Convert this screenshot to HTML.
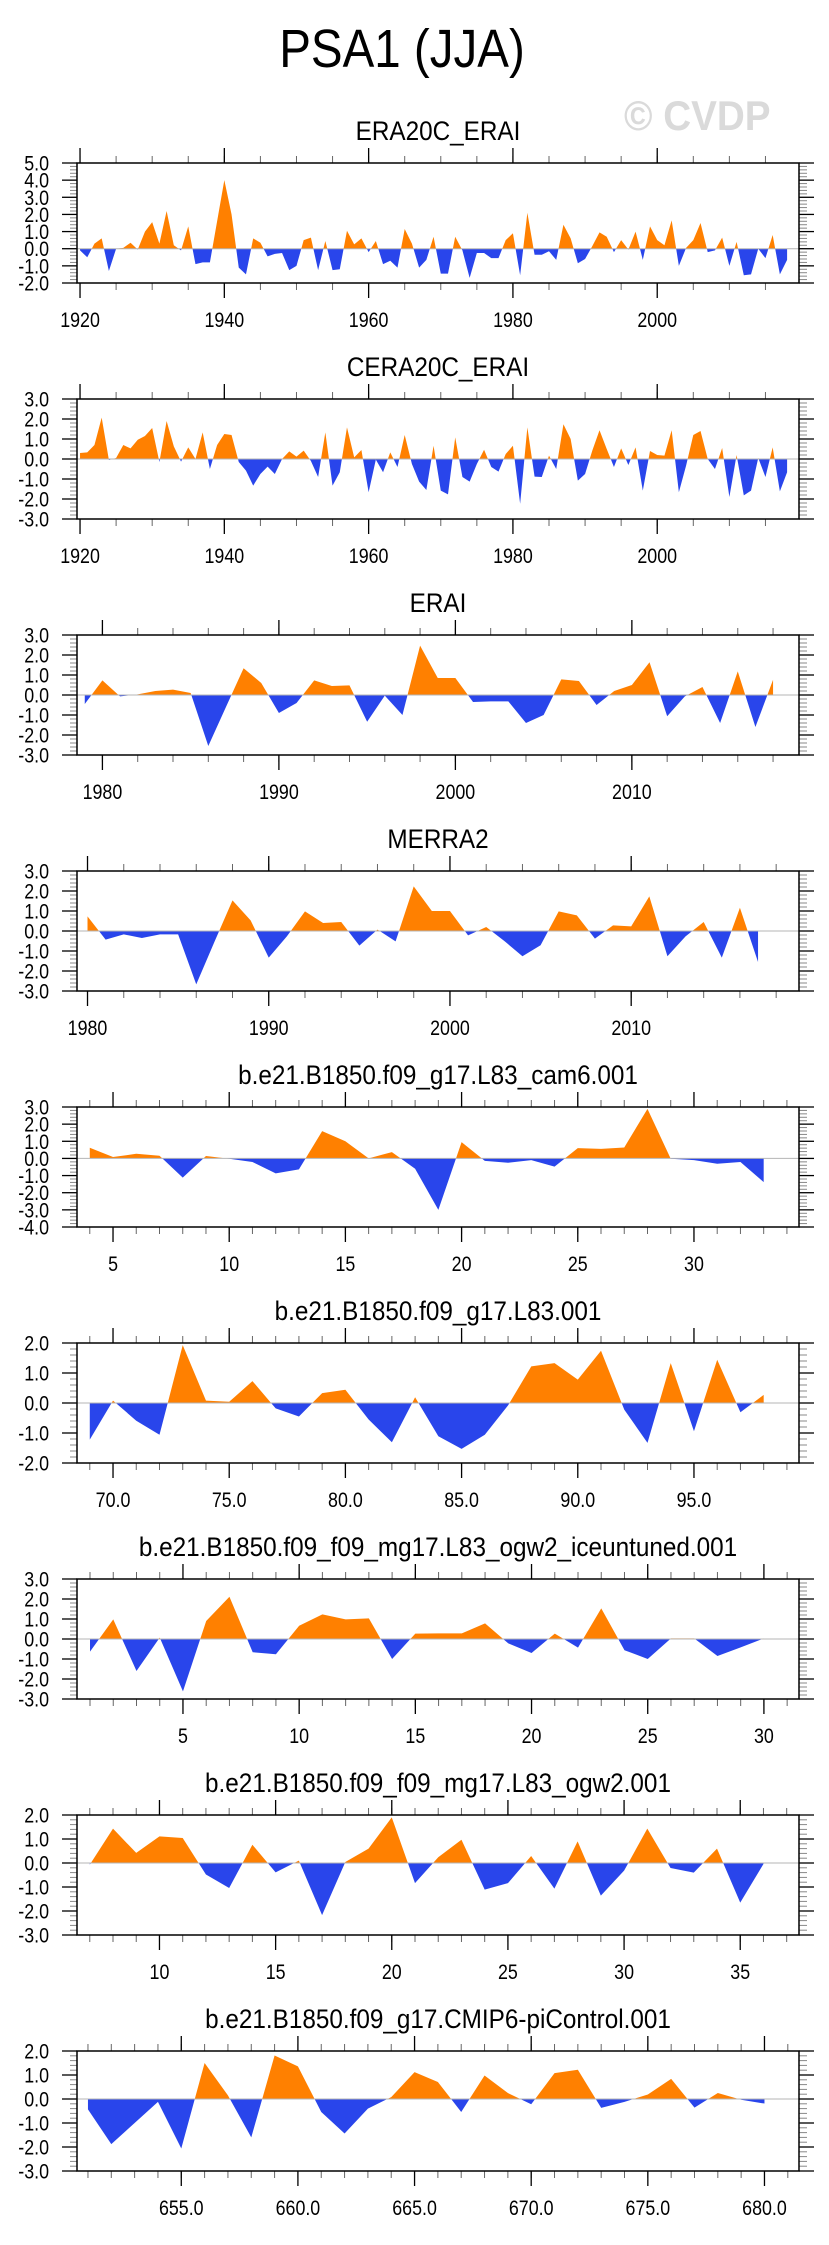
<!DOCTYPE html>
<html>
<head>
<meta charset="utf-8">
<style>
  html,body{margin:0;padding:0;background:#fff;}
  svg{display:block;font-family:"Liberation Sans",Arial,sans-serif;}
</style>
</head>
<body>
<svg id="chart" width="829" height="2245" viewBox="0 0 829 2245" xmlns="http://www.w3.org/2000/svg">
  <rect x="0" y="0" width="829" height="2245" fill="#fff"/>
  <text transform="translate(402,67) scale(0.88,1)" x="0" y="0" font-size="54" text-anchor="middle" fill="#000">PSA1 (JJA)</text>
  <text transform="translate(624,130) scale(0.92,1)" x="0" y="0" font-size="42" font-weight="bold" fill="#dadada">© CVDP</text>
</svg>
<script>
// ---- data ----
const era20cValues = [-0.1,-0.5,0.3,0.6,-1.3,0.0,0.05,0.35,-0.05,1.0,
 1.55,0.3,2.2,0.2,-0.1,1.3,-0.9,-0.8,-0.8,1.6,
 4.0,2.0,-1.1,-1.5,0.6,0.35,-0.45,-0.3,-0.25,-1.25,
 -1.0,0.5,0.65,-1.25,0.45,-1.25,-1.2,1.05,0.25,0.6,
 -0.2,0.45,-0.9,-0.7,-1.1,1.15,0.3,-1.1,-0.65,0.7,
 -1.45,-1.45,0.7,-0.1,-1.7,-0.25,-0.25,-0.55,-0.55,0.5,
 0.9,-1.55,2.1,-0.35,-0.35,-0.15,-0.65,1.4,0.6,-0.85,
 -0.6,0.15,0.95,0.7,-0.2,0.5,-0.05,1.0,-0.65,1.3,
 0.5,0.2,1.65,-1.0,0.05,0.5,1.5,-0.2,-0.1,0.65,
 -1.0,0.4,-1.55,-1.5,0.0,-0.55,0.8,-1.5,-0.65];
const cera20cValues = [0.3,0.33,0.7,2.07,-0.05,0.05,0.7,0.53,0.96,1.15,
 1.55,-0.15,1.9,0.63,-0.13,0.58,0.0,1.33,-0.5,0.7,
 1.25,1.2,-0.15,-0.58,-1.33,-0.75,-0.38,-0.75,0.0,0.38,
 0.12,0.42,-0.1,-0.9,1.33,-1.33,-0.66,1.58,0.08,0.45,
 -1.66,-0.03,-0.66,0.33,-0.4,1.2,-0.25,-1.13,-1.55,0.66,
 -1.58,-1.77,1.08,-0.9,-1.13,-0.25,0.46,-0.4,-0.63,0.25,
 0.66,-2.24,1.58,-0.88,-0.9,0.17,-0.5,1.74,1.0,-1.08,
 -0.75,0.42,1.44,0.5,-0.4,0.53,-0.3,0.58,-1.58,0.4,
 0.2,0.17,1.44,-1.66,-0.33,1.2,1.4,0.0,-0.5,0.55,
 -1.9,0.2,-1.82,-1.58,0.05,-0.9,0.58,-1.62,-0.66];
const eraiValues = [-0.45,0.73,-0.07,0.03,0.2,0.27,0.1,-2.55,-0.6,1.34,
 0.6,-0.9,-0.4,0.73,0.45,0.48,-1.34,-0.03,-1.0,2.47,
 0.85,0.85,-0.35,-0.32,-0.32,-1.4,-1.0,0.78,0.7,-0.5,
 0.2,0.5,1.64,-1.06,-0.07,0.4,-1.4,1.18,-1.6,0.76];
const merra2Values = [0.73,-0.43,-0.17,-0.35,-0.17,-0.17,-2.67,-0.55,1.53,0.53,
 -1.33,-0.27,0.98,0.4,0.45,-0.73,0.07,-0.52,2.23,1.0,
 1.0,-0.22,0.2,-0.5,-1.26,-0.71,0.98,0.78,-0.38,0.28,
 0.23,1.73,-1.26,-0.27,0.45,-1.33,1.16,-1.55];
const cam6Values = [0.62,0.08,0.27,0.16,-1.12,0.14,-0.02,-0.21,-0.87,-0.64,
 1.59,1.0,0.0,0.37,-0.6,-3.0,0.95,-0.14,-0.25,-0.1,
 -0.48,0.6,0.56,0.64,2.89,-0.02,-0.1,-0.31,-0.21,-1.38];
const l83Values = [-1.22,0.08,-0.59,-1.06,1.93,0.08,0.04,0.73,-0.18,-0.45,
 0.33,0.44,-0.55,-1.31,0.19,-1.11,-1.53,-1.06,-0.08,1.22,
 1.33,0.78,1.74,-0.22,-1.33,1.33,-0.94,1.44,-0.31,0.27];
const iceuntunedValues = [-0.63,0.98,-1.6,0.07,-2.62,0.9,2.11,-0.66,-0.76,0.66,
 1.23,0.98,1.03,-1.0,0.27,0.28,0.28,0.78,-0.22,-0.7,
 0.27,-0.43,1.53,-0.56,-1.0,0.03,0.03,-0.85,-0.42,0.03];
const ogw2Values = [-0.07,1.43,0.42,1.11,1.04,-0.48,-1.04,0.76,-0.39,0.1,
 -2.17,0.04,0.6,1.9,-0.84,0.24,0.97,-1.11,-0.84,0.29,
 -1.07,0.9,-1.36,-0.32,1.43,-0.21,-0.4,0.6,-1.65,-0.04];
const picontrolValues = [-0.43,-1.88,-1.0,-0.12,-2.06,1.5,0.15,-1.6,1.81,1.36,
 -0.54,-1.44,-0.4,0.08,1.12,0.71,-0.54,0.98,0.25,-0.22,
 1.08,1.22,-0.37,-0.12,0.19,0.84,-0.36,0.25,-0.03,-0.19];

const panelTitles = ["ERA20C_ERAI","CERA20C_ERAI","ERAI","MERRA2",
 "b.e21.B1850.f09_g17.L83_cam6.001","b.e21.B1850.f09_g17.L83.001",
 "b.e21.B1850.f09_f09_mg17.L83_ogw2_iceuntuned.001",
 "b.e21.B1850.f09_f09_mg17.L83_ogw2.001","b.e21.B1850.f09_g17.CMIP6-piControl.001"];
const panelSeries = [era20cValues,cera20cValues,eraiValues,merra2Values,cam6Values,l83Values,iceuntunedValues,ogw2Values,picontrolValues];
const panelXStart = [1920,1920,1979,1980,4,69,1,7,651];
const panelYMax = [5,3,3,3,3,2,3,2,2];
const panelYMin = [-2,-3,-3,-3,-4,-2,-3,-3,-3];
const panelXMin = [1919.58,1919.58,1978.56,1979.42,3.45,68.45,0.44,6.45,650.53];
const panelXMax = [2019.65,2019.65,2019.47,2019.26,34.52,99.52,31.51,37.53,681.48];
const panelXMajor = [[1920,1940,1960,1980,2000],[1920,1940,1960,1980,2000],
 [1980,1990,2000,2010],[1980,1990,2000,2010],[5,10,15,20,25,30],
 [70,75,80,85,90,95],[5,10,15,20,25,30],[10,15,20,25,30,35],[655,660,665,670,675,680]];
const panelXMajorLabels = [["1920","1940","1960","1980","2000"],["1920","1940","1960","1980","2000"],
 ["1980","1990","2000","2010"],["1980","1990","2000","2010"],["5","10","15","20","25","30"],
 ["70.0","75.0","80.0","85.0","90.0","95.0"],["5","10","15","20","25","30"],
 ["10","15","20","25","30","35"],["655.0","660.0","665.0","670.0","675.0","680.0"]];
const panelXMinorStep = [5,5,2,2,1,1,1,1,1];

// ---- drawing ----
const NS = "http://www.w3.org/2000/svg";
const svg = document.getElementById("chart");
const BOX_L = 77, BOX_R = 799, BOX_H = 120, FIRST_TOP = 163, PITCH = 236;
const ORANGE = "#ff8000", BLUE = "#2945eb";

function mk(tag, attrs, parent){
  const e = document.createElementNS(NS, tag);
  for (const k in attrs) e.setAttribute(k, attrs[k]);
  (parent||svg).appendChild(e);
  return e;
}
function txt(parent, x, y, size, anchor, sx, str){
  const t = mk("text", {x: 0, y: 0, transform: "translate(" + x + "," + y + ") scale(" + sx + ",1)", "font-size": size, "text-anchor": anchor, fill: "#000"}, parent);
  t.textContent = str;
  return t;
}

for (let p = 0; p < panelSeries.length; p++) {
  const top = FIRST_TOP + p * PITCH, bot = top + BOX_H;
  const ymin = panelYMin[p], ymax = panelYMax[p];
  const xmin = panelXMin[p], xmax = panelXMax[p];
  const xs = v => BOX_L + (v - xmin) / (xmax - xmin) * (BOX_R - BOX_L);
  const ys = v => top + (ymax - v) / (ymax - ymin) * BOX_H;
  const g = mk("g", {});
  
  

  const t = txt(g, (BOX_L+BOX_R)/2, top - 23, 27, "middle", 0.9, panelTitles[p]);
  
  

  // area
  const vals = panelSeries[p];
  const y0 = ys(0);
  let d = "M" + xs(panelXStart[p]).toFixed(2) + "," + y0.toFixed(2);
  for (let i = 0; i < vals.length; i++) d += " L" + xs(panelXStart[p] + i).toFixed(2) + "," + ys(vals[i]).toFixed(2);
  d += " L" + xs(panelXStart[p] + vals.length - 1).toFixed(2) + "," + y0.toFixed(2) + " Z";
  const cidA = "clipA" + p, cidB = "clipB" + p;
  const defs = mk("defs", {}, g);
  const ca = mk("clipPath", {id: cidA}, defs);
  mk("rect", {x: BOX_L, y: top, width: BOX_R-BOX_L, height: y0 - top}, ca);
  const cb = mk("clipPath", {id: cidB}, defs);
  mk("rect", {x: BOX_L, y: y0, width: BOX_R-BOX_L, height: bot - y0}, cb);
  const pos = mk("path", {d: d, fill: ORANGE, "clip-path": "url(#" + cidA + ")"}, g);
  
  
  const neg = mk("path", {d: d, fill: BLUE, "clip-path": "url(#" + cidB + ")"}, g);
  
  

  const zl = mk("line", {x1: BOX_L, x2: BOX_R, y1: y0, y2: y0, stroke: "#b4b4b4", "stroke-width": 1}, g);
  
  

  // y ticks
  for (let v = ymin; v <= ymax + 1e-9; v += 1) {
    const y = ys(v);
    mk("line", {x1: BOX_L-15, x2: BOX_L, y1: y, y2: y, stroke: "#000", "stroke-width": 1.3}, g);
    mk("line", {x1: BOX_R, x2: BOX_R+15, y1: y, y2: y, stroke: "#000", "stroke-width": 1.3}, g);
    const lb = txt(g, 49, y + 7.5, 21, "end", 0.85, v.toFixed(1));
    
    
    if (v < ymax - 1e-9) {
      for (let m = 1; m < 5; m++) {
        const ym = ys(v + m * 0.2);
        mk("line", {x1: BOX_L-7, x2: BOX_L, y1: ym, y2: ym, stroke: "#888", "stroke-width": 1}, g);
        mk("line", {x1: BOX_R, x2: BOX_R+8, y1: ym, y2: ym, stroke: "#888", "stroke-width": 1}, g);
      }
    }
  }
  // x minor ticks
  const st = panelXMinorStep[p];
  for (let v = Math.ceil(xmin / st) * st; v <= xmax; v += st) {
    const x = xs(v);
    mk("line", {x1: x, x2: x, y1: top-7, y2: top, stroke: "#666", "stroke-width": 1}, g);
    mk("line", {x1: x, x2: x, y1: bot, y2: bot+7, stroke: "#666", "stroke-width": 1}, g);
  }
  // x major ticks + labels
  const majors = panelXMajor[p];
  for (let i = 0; i < majors.length; i++) {
    const x = xs(majors[i]);
    mk("line", {x1: x, x2: x, y1: top-15, y2: top, stroke: "#000", "stroke-width": 1.3}, g);
    mk("line", {x1: x, x2: x, y1: bot, y2: bot+15, stroke: "#000", "stroke-width": 1.3}, g);
    const lb = txt(g, x, bot + 44, 21, "middle", 0.85, panelXMajorLabels[p][i]);
    
    
  }
  const box = mk("rect", {x: BOX_L, y: top, width: BOX_R-BOX_L, height: BOX_H, fill: "none", stroke: "#000", "stroke-width": 1.5}, g);
  
  
}
</script>
</body>
</html>
